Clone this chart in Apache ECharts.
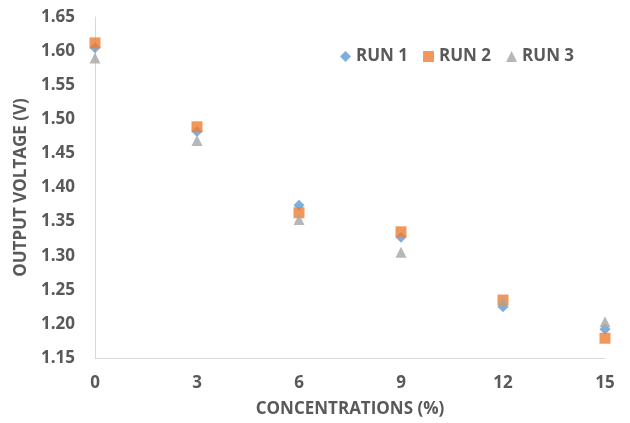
<!DOCTYPE html>
<html>
<head>
<meta charset="utf-8">
<script src="https://cdn.jsdelivr.net/npm/echarts@6/dist/echarts.min.js"></script>
<style>
  html, body { margin: 0; padding: 0; background: #fff; }
  #chart { width: 630px; height: 423px; }
</style>
</head>
<body>
<div id="chart"></div>
<script>
// Concentration steps (%) and measured output voltage for three runs
var concentrations = [0, 3, 6, 9, 12, 15];
var run1 = [1.605, 1.482, 1.374, 1.327, 1.225, 1.192];
var run2 = [1.612, 1.489, 1.363, 1.335, 1.235, 1.179];
var run3 = [1.590, 1.469, 1.353, 1.305, 1.232, 1.203];
var seriesNames = ['RUN 1', 'RUN 2', 'RUN 3'];
var yTicks = [1.15, 1.20, 1.25, 1.30, 1.35, 1.40, 1.45, 1.50, 1.55, 1.60, 1.65];
var xTicks = [0, 3, 6, 9, 12, 15];

function pairs(values) {
  return concentrations.map(function (c, i) { return [c, values[i]]; });
}

var textColor = '#595959';
var fontFam = '"Open Sans", sans-serif';
var fontSz = 17;

var chart = echarts.init(document.getElementById('chart'));
chart.setOption({
  backgroundColor: '#ffffff',
  animation: false,
  grid: { left: 95, right: 25, top: 17, bottom: 65 },
  legend: {
    left: 335, top: 43,
    itemGap: 15,
    itemWidth: 11, itemHeight: 11,
    textStyle: { color: textColor, fontSize: fontSz, fontWeight: 'bold', fontFamily: fontFam },
    data: [
      { name: seriesNames[0], icon: 'diamond' },
      { name: seriesNames[1], icon: 'rect' },
      { name: seriesNames[2], icon: 'triangle' }
    ]
  },
  xAxis: {
    type: 'value',
    min: xTicks[0], max: xTicks[xTicks.length - 1], interval: 3,
    name: 'CONCENTRATIONS (%)',
    nameLocation: 'middle', nameGap: 43,
    nameTextStyle: { color: textColor, fontSize: fontSz, fontWeight: 'bold', fontFamily: fontFam },
    axisLine: { lineStyle: { color: '#d9d9d9', width: 1 } },
    axisTick: { show: false },
    splitLine: { show: false },
    axisLabel: { color: textColor, fontSize: fontSz, fontWeight: 'bold', fontFamily: fontFam, margin: 17 }
  },
  yAxis: {
    type: 'value',
    min: yTicks[0], max: yTicks[yTicks.length - 1], interval: 0.05,
    name: 'OUTPUT VOLTAGE (V)',
    nameLocation: 'middle', nameGap: 63,
    nameTextStyle: { color: textColor, fontSize: fontSz, fontWeight: 'bold', fontFamily: fontFam },
    axisLine: { show: true, lineStyle: { color: '#d9d9d9', width: 1 } },
    axisTick: { show: false },
    splitLine: { show: false },
    axisLabel: {
      color: textColor, fontSize: fontSz, fontWeight: 'bold', fontFamily: fontFam, margin: 20,
      formatter: function (v) { return v.toFixed(2); }
    }
  },
  series: [
    { name: seriesNames[0], type: 'scatter', symbol: 'diamond', symbolSize: [11, 11],
      itemStyle: { color: '#5B9BD5' }, data: pairs(run1) },
    { name: seriesNames[1], type: 'scatter', symbol: 'rect', symbolSize: 11,
      itemStyle: { color: '#ED7D31' }, data: pairs(run2) },
    { name: seriesNames[2], type: 'scatter', symbol: 'triangle', symbolSize: 11,
      itemStyle: { color: '#A5A5A5' }, data: pairs(run3) }
  ]
});
</script>
</body>
</html>
